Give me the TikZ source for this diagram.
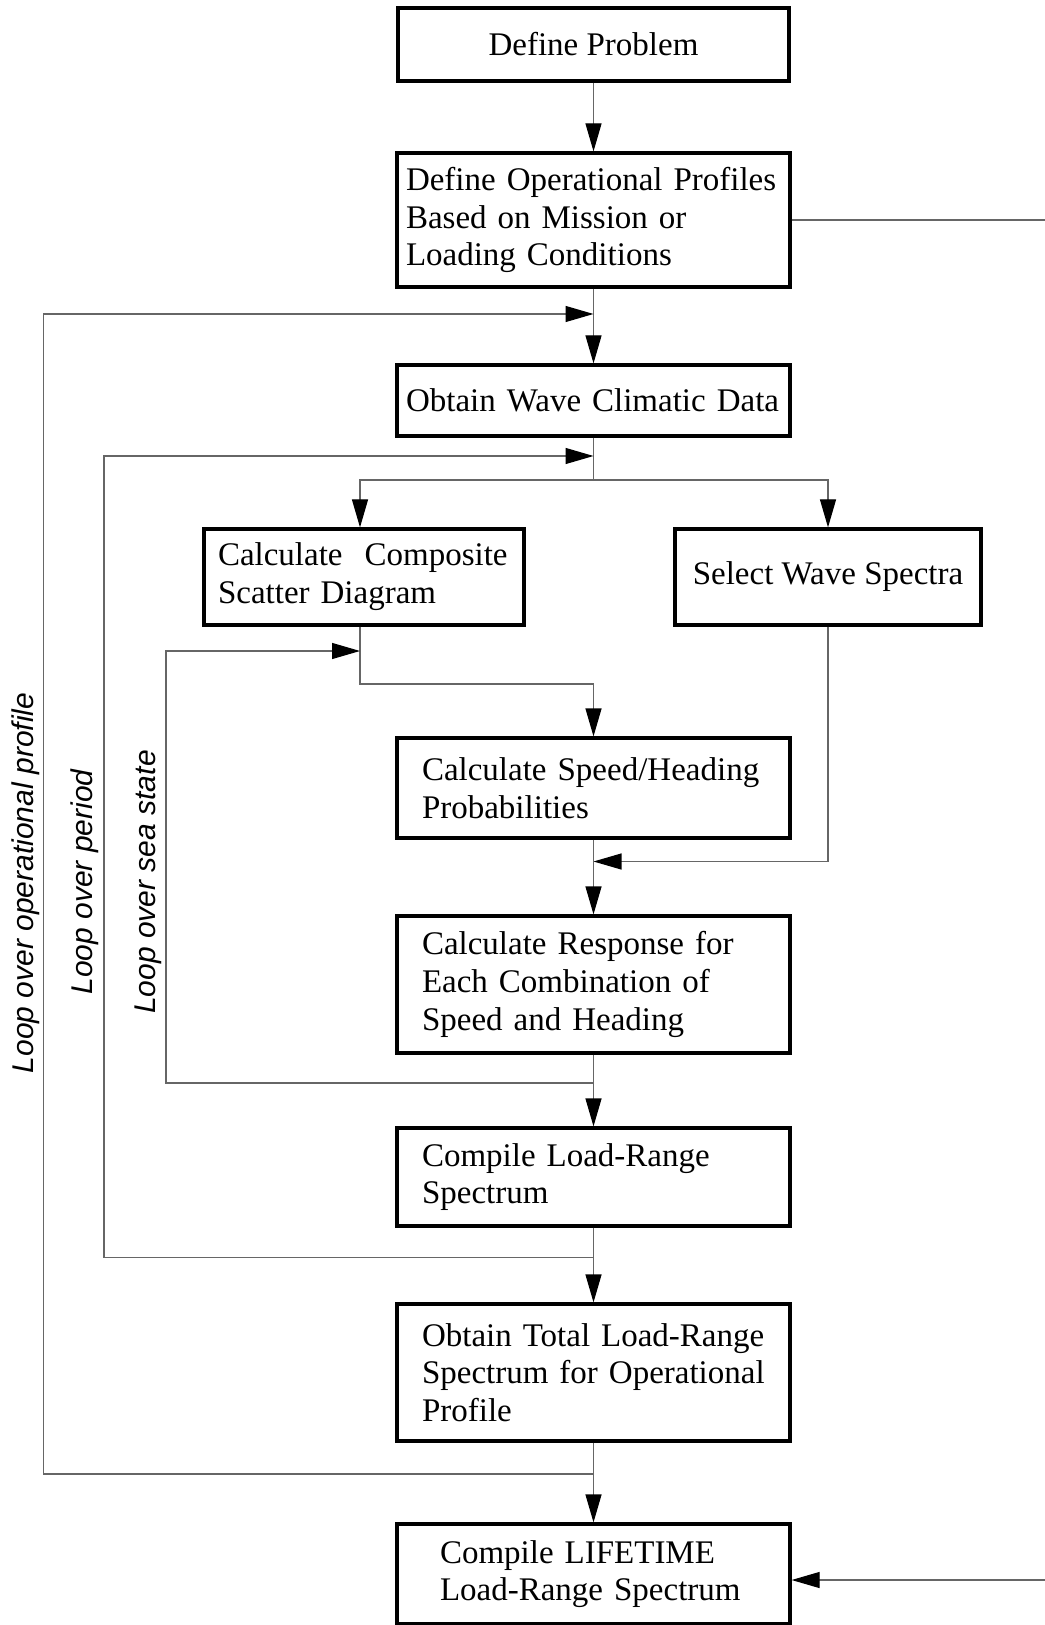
\documentclass[tikz,border=0pt]{standalone}
\usepackage{fontspec}
\setmainfont{Liberation Serif}
\newfontfamily\loopfamily{Liberation Sans}
\usepackage{tikz}
\usetikzlibrary{arrows.meta}
\newcommand{\boxfont}{\fontsize{16.5pt}{18.9pt}\selectfont}
\newcommand{\loopfont}{\loopfamily\itshape\fontsize{15pt}{18pt}\selectfont}

\begin{document}
\begin{tikzpicture}[x=0.5pt,y=-0.5pt]
\tikzstyle{block} = [rectangle, draw, line width=1.6pt, align=left,
font=\boxfont, inner ysep=0pt]
\tikzstyle{block_c} = [block, align=center]
\tikzstyle{line} = [draw, line width=0.6pt, black!60,
-{Triangle[length=14pt,width=8pt,color=black]}]
\tikzstyle{wire} = [draw, line width=0.6pt, black!60]
\tikzstyle{loop} = [rotate=90, font=\loopfont, inner sep=0pt]
\useasboundingbox (0,0) rectangle (1044,1625);

% boxes down the middle
\node [block_c, minimum width=195.5pt, minimum height=36.5pt] (define) at (593.5,44.5) {Define Problem};
\node [block, minimum width=196.5pt, minimum height=67pt, inner xsep=4.5pt, text width=187.5pt] (profiles) at (593.5,220)
 {Define Operational Profiles\\ Based on Mission or\\ Loading Conditions};
\node [block, minimum width=196.5pt, minimum height=35.5pt, inner xsep=4.5pt, text width=187.5pt] (climate) at (593.5,400.5)
 {Obtain Wave Climatic Data};
\node [block, minimum width=160pt, minimum height=48pt, inner xsep=7pt, text width=146pt] (scatter) at (364,577)
 {Calculate\ \ Composite\\ Scatter Diagram};
\node [block_c, minimum width=153pt, minimum height=48pt] (spectra) at (828,577) {Select Wave Spectra};
\node [block, minimum width=196.5pt, minimum height=50pt, inner xsep=12.5pt, text width=171.5pt] (speed) at (593.5,788)
 {Calculate Speed/Heading\\ Probabilities};
\node [block, minimum width=196.5pt, minimum height=68.5pt, inner xsep=12.5pt, text width=171.5pt] (response) at (593.5,984.5)
 {Calculate Response for\\ Each Combination of\\ Speed and Heading};
\node [block, minimum width=196.5pt, minimum height=49pt, inner xsep=12.5pt, text width=171.5pt] (compile) at (593.5,1177)
 {Compile Load-Range\\ Spectrum};
\node [block, minimum width=196.5pt, minimum height=68.5pt, inner xsep=12.5pt, text width=171.5pt] (total) at (593.5,1372.5)
 {Obtain Total Load-Range\\ Spectrum for Operational\\ Profile};
\node [block, minimum width=196.5pt, minimum height=50pt, inner xsep=21.5pt, text width=153.5pt] (lifetime) at (593.5,1574)
 {Compile LIFETIME\\ Load-Range Spectrum};

% loop labels
\node [loop] (oplabel) at (26,883) {Loop over operational profile};
\node [loop] (perlabel) at (85,882) {Loop over period};
\node [loop] (sealabel) at (148,882) {Loop over sea state};

% junctions
\coordinate (opTop) at (593.5,314);
\coordinate (opBot) at (593.5,1474);
\coordinate (opL) at (43.5,900);
\coordinate (perTop) at (593.5,456);
\coordinate (perBot) at (593.5,1257.5);
\coordinate (perL) at (104,900);
\coordinate (seaTop) at (360,651);
\coordinate (seaBot) at (593.5,1083);
\coordinate (seaL) at (166,900);
\coordinate (split) at (593.5,480);
\coordinate (jog) at (593.5,684);
\coordinate (merge) at (593.5,861.5);
\coordinate (rTop) at (1046,220);
\coordinate (rBot) at (1046,1580);

% main flow
\path [line] (define) -- (profiles);
\path [line] (profiles) -- (climate);
\path [wire] (climate) -- (split);
\path [line] (split) -| ([xshift=-2pt]scatter.north);
\path [line] (split) -| (spectra.north);
\path [line] ([xshift=-2pt]scatter.south) |- (jog) -- (speed.north);
\path [line] (spectra.south) |- (merge);
\path [line] (speed) -- (response);
\path [line] (response) -- (compile);
\path [line] (compile) -- (total);
\path [line] (total) -- (lifetime);

% loops back
\path [line] (opBot) -| (opL) |- (opTop);
\path [line] (perBot) -| (perL) |- (perTop);
\path [line] (seaBot) -| (seaL) |- (seaTop);

% right side
\path [wire] (profiles.east) -- (rTop);
\path [line] (rBot) -- (lifetime.east |- rBot);
\end{tikzpicture}
\end{document}
